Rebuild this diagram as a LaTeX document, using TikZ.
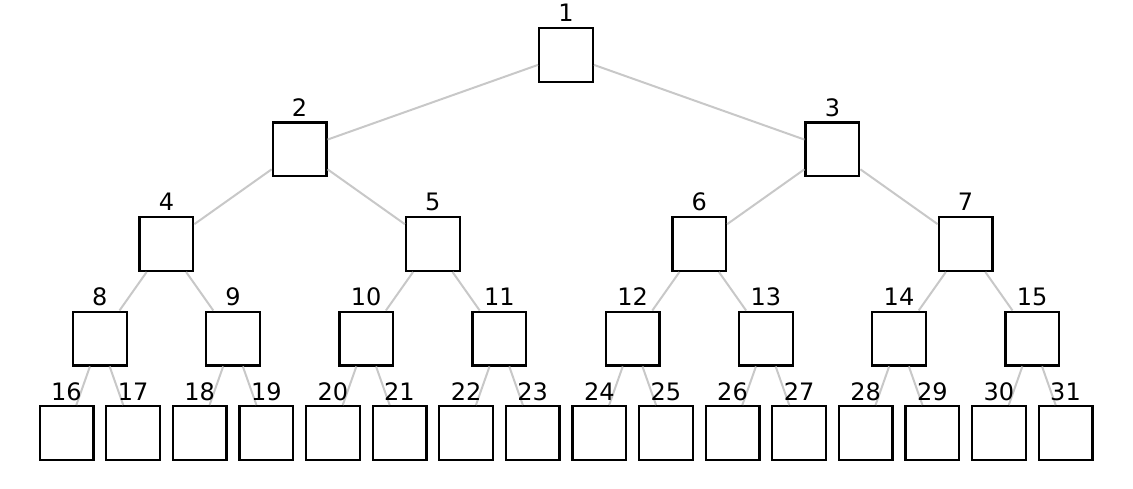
\documentclass[tikz,border=0pt]{standalone}
\usepackage{fontspec}
\setmainfont{DejaVu Sans}
\begin{document}
\begin{tikzpicture}[x=1pt,y=-1pt,
  box/.style={draw=black, line width=2.3pt, fill=white, minimum size=53.7pt, inner sep=0pt},
  lbl/.style={anchor=base, font=\fontsize{24}{28}\selectfont, inner sep=0pt},
  link/.style={draw={rgb,255:red,200;green,200;blue,200}, line width=2pt}]
\useasboundingbox (0,0) rectangle (1133,489);
\foreach \i/\x/\y in {
  1/566.0/55,
  2/299.6/149.5, 3/832.4/149.5,
  4/166.4/244, 5/432.8/244, 6/699.2/244, 7/965.6/244,
  8/99.8/338.5, 9/233.0/338.5, 10/366.2/338.5, 11/499.4/338.5,
  12/632.6/338.5, 13/765.8/338.5, 14/899.0/338.5, 15/1032.2/338.5,
  16/66.5/433, 17/133.1/433, 18/199.7/433, 19/266.3/433,
  20/332.9/433, 21/399.5/433, 22/466.1/433, 23/532.7/433,
  24/599.3/433, 25/665.9/433, 26/732.5/433, 27/799.1/433,
  28/865.7/433, 29/932.3/433, 30/998.9/433, 31/1065.5/433}{
  \node[box] (n\i) at (\x,\y) {};
  \coordinate (t\i) at (\x,\y-33);
}
\foreach \p in {1,...,15}{
  \pgfmathtruncatemacro{\ca}{2*\p}
  \pgfmathtruncatemacro{\cb}{2*\p+1}
  \draw[link] (n\p) -- (n\ca);
  \draw[link] (n\p) -- (n\cb);
}
\foreach \i in {1,...,31}{
  \node[lbl] (l\i) at (t\i) {\i};
}
\end{tikzpicture}
\end{document}
